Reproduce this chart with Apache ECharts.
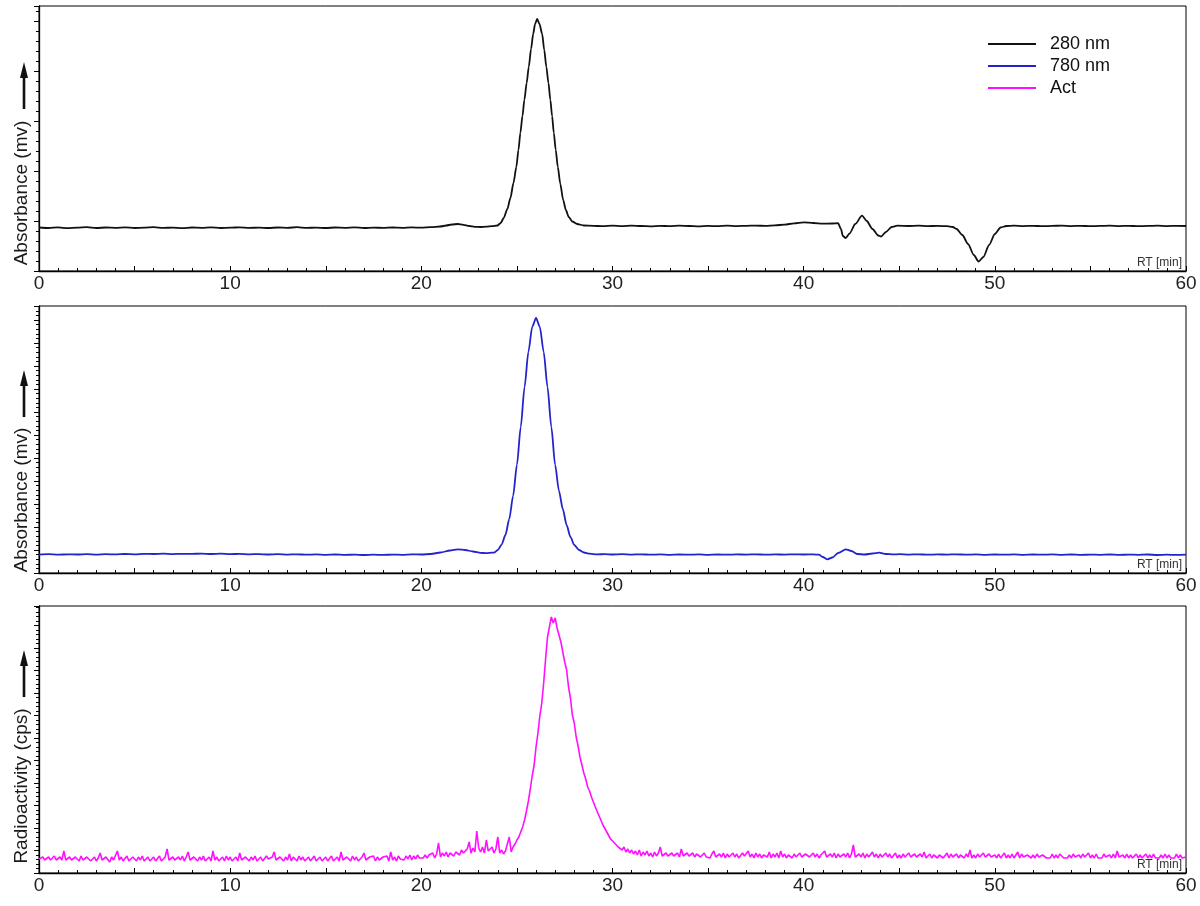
<!DOCTYPE html>
<html><head><meta charset="utf-8">
<script src="https://cdn.jsdelivr.net/npm/echarts@6/dist/echarts.min.js"></script>
<style>html,body{margin:0;padding:0;background:#fff}#c{width:1200px;height:906px}</style>
</head><body><div id="c"></div>
<script>
// ---------- data ----------
const seriesNames = ['280 nm', '780 nm', 'Act'];
const yAxisTitles = ['Absorbance (mv)', 'Absorbance (mv)', 'Radioactivity (cps)'];
const xTickLabels = [0, 10, 20, 30, 40, 50, 60];

// [RT min, signal] black 280 nm trace
const trace280 = [
[0,43.5],[0.5,43],[1,43.6],[1.5,42.8],[2,43.4],[2.5,43.8],[3,43],[3.5,43.5],[4,43.2],[4.5,43.7],
[5,43],[5.5,43.3],[6,43.8],[6.5,43.1],[7,43.4],[7.5,42.9],[8,43.5],[8.5,43.2],[9,43.6],[9.5,43],
[10,43.3],[10.5,43.7],[11,43.1],[11.5,43.4],[12,43],[12.5,43.5],[13,43.2],[13.5,43.8],[14,43.1],[14.5,43.4],
[15,43],[15.5,43.5],[16,43.2],[16.5,43.6],[17,43],[17.5,43.4],[18,43.1],[18.5,43.5],[19,43.2],[19.5,43.6],
[20,43.3],[20.5,43.8],[21,44.5],[21.3,45.5],[21.6,46.5],[21.9,47],[22.2,46.2],[22.5,45],[22.8,44.2],[23.1,44],
[23.4,44.3],[23.7,44.8],[23.98,45.5],[24.15,48],[24.31,53],[24.5,62],[24.66,73],[24.82,88],[24.97,104],[25.08,121],
[25.18,138],[25.29,155],[25.39,171],[25.51,188],[25.62,204],[25.74,222],[25.85,237],[25.95,247],[26.06,252],[26.18,247],
[26.32,237],[26.43,221],[26.54,204],[26.65,188],[26.75,171],[26.84,155],[26.93,138],[27.03,121],[27.14,104],[27.27,87],
[27.42,71],[27.56,61],[27.71,54],[27.9,49.5],[28.15,47],[28.5,45.5],[29,45.2],[29.5,44.8],[30,45.3],[30.5,44.9],
[31,45.4],[31.5,45],[32,44.7],[32.5,45.2],[33,44.8],[33.5,45.3],[34,45],[34.5,44.6],[35,45.1],[35.5,44.8],
[36,45.3],[36.5,44.9],[37,45.2],[37.5,45.4],[38,45.1],[38.5,45.6],[39,46.4],[39.5,47.6],[40,48.6],[40.5,48],
[41,47.4],[41.5,47.5],[41.8,47.8],[41.95,42],[42.05,35],[42.2,33],[42.4,37.5],[42.7,47],[43.05,55.3],[43.3,50],
[43.6,42],[43.9,35.5],[44.05,34.5],[44.3,39],[44.6,44],[44.9,45.3],[45.5,45],[46,45.3],[46.5,44.9],[47,45.1],
[47.5,44.8],[47.8,44],[48,42],[48.3,36],[48.6,27],[48.9,16],[49.15,9.5],[49.4,14],[49.7,26],[50,37],
[50.3,43.5],[50.6,45],[51,45.3],[51.5,44.9],[52,45.2],[52.5,44.8],[53,45.1],[53.5,45.4],[54,44.9],[54.5,45.2],
[55,44.8],[55.5,45.1],[56,45.3],[56.5,44.9],[57,45.2],[57.5,44.8],[58,45.1],[58.5,45.3],[59,44.9],[59.5,45.2],[60,45]
];

// [RT min, signal] blue 780 nm trace
const trace780 = [
[0,18.4],[0.5,18.8],[1,18.3],[1.5,18.7],[2,18.5],[2.5,18.9],[3,18.4],[3.5,18.8],[4,18.6],[4.5,19],
[5,18.7],[5.5,19.2],[6,19],[6.5,19.3],[7,18.9],[7.5,19.2],[8,19.1],[8.5,19.4],[9,19],[9.5,19.3],
[10,18.9],[10.5,19.1],[11,18.7],[11.5,18.9],[12,18.5],[12.5,18.8],[13,18.4],[13.5,18.7],[14,18.3],[14.5,18.6],
[15,18.2],[15.5,18.5],[16,18.1],[16.5,18.4],[17,18],[17.5,18.3],[18,18.1],[18.5,18.4],[19,18.2],[19.5,18.6],
[20,18.5],[20.5,19],[21,20.5],[21.5,22.5],[21.9,23.7],[22.3,23],[22.7,21.5],[23.1,20.2],[23.4,19.8],[23.7,20.3],
[23.8,20.4],[24,23],[24.2,28.4],[24.4,38],[24.6,54],[24.8,77],[25,108],[25.2,146],[25.4,186],[25.6,221],
[25.8,246],[26,255],[26.2,246],[26.4,221],[26.6,186],[26.8,146],[27,108],[27.2,82],[27.4,64],[27.6,48],
[27.8,36],[28,28],[28.25,23],[28.5,20.5],[28.8,19.3],[29.2,18.6],[29.6,18.9],[30,18.5],[30.5,18.8],[31,18.4],
[31.5,18.7],[32,18.3],[32.5,18.6],[33,18.2],[33.5,18.5],[34,18.3],[34.5,18.6],[35,18.2],[35.5,18.5],[36,18.3],
[36.5,18.6],[37,18.4],[37.5,18.7],[38,18.3],[38.5,18.6],[39,18.4],[39.5,18.7],[40,18.5],[40.5,18.6],[40.8,18.3],
[41,16],[41.25,13.7],[41.5,15.5],[41.8,20],[42.2,23.7],[42.5,22],[42.8,19],[43.2,18.5],[43.6,19.5],[43.95,20.3],
[44.3,19],[44.7,18.6],[45,18.8],[45.5,18.4],[46,18.7],[46.5,18.3],[47,18.6],[47.5,18.4],[48,18.7],[48.5,18.3],
[49,18.6],[49.5,18.2],[50,18.5],[50.5,18.3],[51,18.6],[51.5,18.2],[52,18.5],[52.5,18.3],[53,18.6],[53.5,18.2],
[54,18.5],[54.5,18.1],[55,18.4],[55.5,18.2],[56,18.5],[56.5,18.1],[57,18.4],[57.5,18.2],[58,18.5],[58.5,18],
[59,18.3],[59.5,18.1],[60,18.3]
];

// magenta radioactivity trace: one reading every 0.1 min from 0 to 60 min
const actStartRT = 0;
const actStepRT = 0.1;
const traceAct = [
// 0.0 - 4.9
14,12,16,13,11,16,13,12,17,13, 12,16,13,22,13,12,16,13,11,16, 14,12,17,13,12,16,18,12,14,16, 12,15,20,13,12,16,14,11,16,13, 12,22,13,16,12,14,17,12,13,16,
// 5.0 - 9.9
14,12,16,13,17,12,14,16,12,14, 16,12,14,17,12,13,16,24,13,12, 16,13,12,16,13,17,12,16,21,13, 12,16,14,12,16,13,17,12,14,16, 12,22,13,16,12,14,16,12,17,13,
// 10.0 - 14.9
16,12,14,16,12,20,13,12,16,14, 12,16,13,17,12,14,16,12,13,17, 14,12,16,21,13,12,16,14,12,16, 13,19,12,16,14,12,17,13,16,12, 14,16,12,14,17,12,13,16,12,14,
// 15.0 - 19.9
16,12,14,17,12,14,16,12,21,13, 12,16,14,12,17,13,16,12,14,16, 20,13,12,16,14,17,12,16,13,12, 16,14,17,12,21,13,16,12,17,14, 16,13,17,14,18,13,17,14,18,15,
// 20.0 - 24.9
17,15,18,15,18,16,20,15,19,30, 16,20,17,21,16,20,22,17,21,23, 18,23,20,21,24,31,20,25,21,42, 25,21,26,20,33,22,21,26,20,24, 36,20,23,19,22,24,36,21,26,29,
// 25.0 - 29.9
33,36,41,46,53,62,72,84,97,108, 126,140,157,170,190,214,236,246,256,250, 255,245,247,231,231,211,203,186,175,158, 150,136,127,116,108,100,94,86,82,76, 74,66,65,57,56,48,49,41,42,34,
// 30.0 - 34.9
36,30,31,26,27,23,26,21,24,20, 23,19,22,18,23,17,21,18,22,17, 20,16,21,17,20,26,17,16,20,17, 16,20,17,15,20,16,24,17,16,20, 17,15,20,16,19,21,16,15,20,16,
// 35.0 - 39.9
18,15,19,22,16,15,19,16,20,15, 19,16,15,20,16,19,15,16,20,17, 15,22,16,19,15,20,16,19,15,18, 20,16,21,15,19,16,20,15,22,16, 19,15,18,20,15,19,16,15,20,16,
// 40.0 - 44.9
15,19,21,16,15,20,16,19,15,18, 20,22,16,15,19,16,20,15,19,16, 15,19,16,20,15,19,28,16,15,19, 16,20,15,19,16,15,21,16,19,15, 19,16,15,20,16,19,15,16,20,15,
// 45.0 - 49.9
18,15,19,16,15,20,16,15,19,16, 15,19,16,21,15,16,19,15,18,20, 15,18,19,15,16,20,15,19,16,15, 19,15,18,20,15,19,16,23,15,18, 15,19,16,15,20,16,15,19,16,15,
// 50.0 - 54.9
18,15,19,15,16,20,15,18,15,19, 15,16,21,15,19,16,15,18,20,15, 18,15,19,16,15,18,20,15,16,15, 19,15,18,15,19,20,15,16,15,18, 15,19,16,15,18,15,19,16,15,20,
// 55.0 - 59.9
15,18,15,19,15,16,15,19,16,15, 18,15,19,15,22,16,15,18,15,19, 15,18,15,16,19,15,18,15,16,19, 15,18,15,19,15,16,15,18,15,19, 15,18,15,16,15,19,15,18,15,17,
// 60.0
16
];

// ---------- chart ----------
const FONT = "'Liberation Sans', Arial, sans-serif";
const colors = ['#111111', '#2323cc', '#ff10ff'];
const gridTops = [6, 306, 606];
const gridHeights = [265, 267, 267];
const yIntervals = [50, 23, 22.5];
const gridLeft = 39, gridRight = 14;

const grids = [], xAxes = [], yAxes = [], graphics = [];
for (let i = 0; i < 3; i++) {
  grids.push({left: gridLeft, right: gridRight, top: gridTops[i], height: gridHeights[i],
    show: true, borderColor: '#000', borderWidth: 1, backgroundColor: 'transparent'});
  xAxes.push({type: 'value', gridIndex: i, min: 0, max: 60, interval: 5,
    axisLine: {show: true, lineStyle: {color: '#000', width: 1.3}},
    axisTick: {show: true, inside: true, length: 5, lineStyle: {color: '#000', width: 1}},
    minorTick: {show: true, splitNumber: 5, length: 3, lineStyle: {color: '#000', width: 1}},
    splitLine: {show: false}, minorSplitLine: {show: false},
    axisLabel: {fontSize: 19, color: '#222', fontFamily: FONT, margin: 3,
      formatter: v => xTickLabels.indexOf(v) >= 0 ? String(v) : ''}
  });
  yAxes.push({type: 'value', gridIndex: i, min: 0, max: gridHeights[i], interval: yIntervals[i],
    axisLine: {show: true, lineStyle: {color: '#000', width: 1.3}},
    axisTick: {show: true, inside: false, length: 5, lineStyle: {color: '#000', width: 1}},
    minorTick: {show: true, splitNumber: 5, length: 3, lineStyle: {color: '#000', width: 1}},
    splitLine: {show: false}, minorSplitLine: {show: false},
    axisLabel: {show: false}
  });
}

// y-axis titles with upward arrows, and "RT [min]" axis tags
const titleCenters = [193, 500, 786];
const arrowTips = [62, 370, 650];
for (let i = 0; i < 3; i++) {
  graphics.push({type: 'text', x: 22, y: titleCenters[i], rotation: Math.PI / 2,
    style: {text: yAxisTitles[i], font: '19px ' + FONT, fill: '#1a1a1a', textAlign: 'center', textVerticalAlign: 'middle'}});
  graphics.push({type: 'line', shape: {x1: 24, y1: arrowTips[i] + 12, x2: 24, y2: arrowTips[i] + 47},
    style: {stroke: '#111', lineWidth: 2.6}});
  graphics.push({type: 'polygon', shape: {points: [[24, arrowTips[i]], [20, arrowTips[i] + 16], [28, arrowTips[i] + 16]]},
    style: {fill: '#111'}});
  const bottom = gridTops[i] + gridHeights[i];
  graphics.push({type: 'text', x: 1182, y: bottom - 8,
    style: {text: 'RT [min]', font: '12px ' + FONT, fill: '#333', textAlign: 'right', textVerticalAlign: 'middle'}});
}

const series = [
  {name: seriesNames[0], type: 'line', xAxisIndex: 0, yAxisIndex: 0, data: trace280,
   smooth: 0.25, smoothMonotone: 'x',
   showSymbol: false, symbol: 'none', lineStyle: {color: colors[0], width: 1.8}, itemStyle: {color: colors[0]}},
  {name: seriesNames[1], type: 'line', xAxisIndex: 1, yAxisIndex: 1, data: trace780,
   smooth: 0.25, smoothMonotone: 'x',
   showSymbol: false, symbol: 'none', lineStyle: {color: colors[1], width: 1.8}, itemStyle: {color: colors[1]}},
  {name: seriesNames[2], type: 'line', xAxisIndex: 2, yAxisIndex: 2,
   data: traceAct.map((v, k) => [actStartRT + k * actStepRT, v]),
   showSymbol: false, symbol: 'none', lineStyle: {color: colors[2], width: 1.6}, itemStyle: {color: colors[2]}}
];

const chart = echarts.init(document.getElementById('c'), null, {renderer: 'canvas'});
chart.setOption({
  animation: false,
  backgroundColor: '#fff',
  legend: {orient: 'vertical', left: 983, top: 29, itemWidth: 48, itemHeight: 2, icon: 'rect', itemGap: 2,
    data: seriesNames, textStyle: {fontSize: 18, color: '#111', fontFamily: FONT, lineHeight: 20, padding: [0, 0, 0, 9]}},
  grid: grids, xAxis: xAxes, yAxis: yAxes, series: series, graphic: graphics
});
</script>
</body></html>
